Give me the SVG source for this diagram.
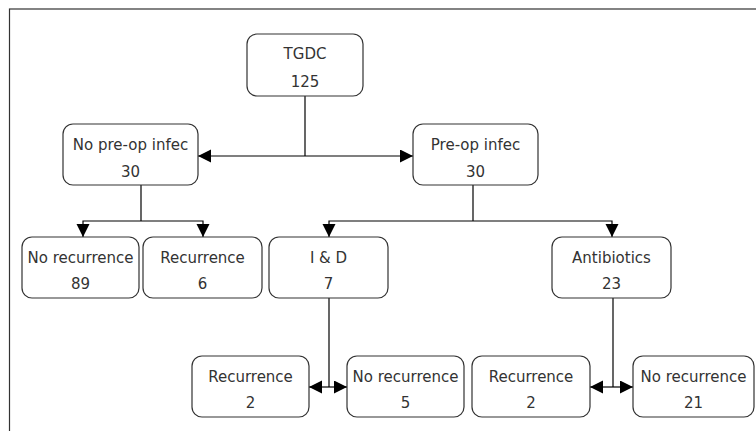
<svg xmlns="http://www.w3.org/2000/svg" width="756" height="431" viewBox="0 0 756 431">
<style>
.node rect{fill:#fff;stroke:#333;stroke-width:1.2}
.node text{font-family:"DejaVu Sans","Liberation Sans",sans-serif;font-size:15px;fill:#333;text-anchor:middle}
.conn path{fill:none;stroke:#000;stroke-width:1.2}
</style>
<defs>
<marker id="arr" markerUnits="userSpaceOnUse" markerWidth="14" markerHeight="14" refX="13" refY="6.5" orient="auto">
<path d="M0,0 L13,6.5 L0,13 Z" fill="#000"/>
</marker>
</defs>
<rect x="9.5" y="9" width="800" height="500" fill="#fff" stroke="#333" stroke-width="1.2"/>
<g class="conn">
<path d="M305,96 V156"/>
<path d="M305,156 H198" marker-end="url(#arr)"/>
<path d="M305,156 H413" marker-end="url(#arr)"/>
<path d="M141,185 V221"/>
<path d="M141,221 H83 V237" marker-end="url(#arr)"/>
<path d="M141,221 H203 V237" marker-end="url(#arr)"/>
<path d="M473,185 V221"/>
<path d="M473,221 H329 V237" marker-end="url(#arr)"/>
<path d="M473,221 H612 V237" marker-end="url(#arr)"/>
<path d="M329,298 V387"/>
<path d="M329,387 H309" marker-end="url(#arr)"/>
<path d="M329,387 H347" marker-end="url(#arr)"/>
<path d="M613,298 V387"/>
<path d="M613,387 H590" marker-end="url(#arr)"/>
<path d="M613,387 H633" marker-end="url(#arr)"/>
</g>
<g id="tgdc" class="node"><rect x="247" y="34" width="116" height="62" rx="10"/><text x="305" y="59">TGDC</text><text x="305" y="87">125</text></g>
<g id="nopreop" class="node"><rect x="63" y="124" width="135" height="61" rx="10"/><text x="130.5" y="150">No pre-op infec</text><text x="130.5" y="177">30</text></g>
<g id="preop" class="node"><rect x="413" y="124" width="125" height="61" rx="10"/><text x="475.5" y="150">Pre-op infec</text><text x="475.5" y="177">30</text></g>
<g id="norec89" class="node"><rect x="22" y="237" width="117" height="61" rx="10"/><text x="80.5" y="263">No recurrence</text><text x="80.5" y="289">89</text></g>
<g id="rec6" class="node"><rect x="143" y="237" width="119" height="61" rx="10"/><text x="202.5" y="263">Recurrence</text><text x="202.5" y="289">6</text></g>
<g id="id" class="node"><rect x="269" y="237" width="119" height="61" rx="10"/><text x="328.5" y="263">I &amp; D</text><text x="328.5" y="289">7</text></g>
<g id="antibiotics" class="node"><rect x="552" y="237" width="119" height="61" rx="10"/><text x="611.5" y="263">Antibiotics</text><text x="611.5" y="289">23</text></g>
<g id="rec2a" class="node"><rect x="192" y="356" width="117" height="61" rx="10"/><text x="250.5" y="382">Recurrence</text><text x="250.5" y="408">2</text></g>
<g id="norec5" class="node"><rect x="347" y="356" width="117" height="61" rx="10"/><text x="405.5" y="382">No recurrence</text><text x="405.5" y="408">5</text></g>
<g id="rec2b" class="node"><rect x="472" y="356" width="118" height="61" rx="10"/><text x="531" y="382">Recurrence</text><text x="531" y="408">2</text></g>
<g id="norec21" class="node"><rect x="633" y="356" width="121" height="61" rx="10"/><text x="693.5" y="382">No recurrence</text><text x="693.5" y="408">21</text></g>
</svg>
